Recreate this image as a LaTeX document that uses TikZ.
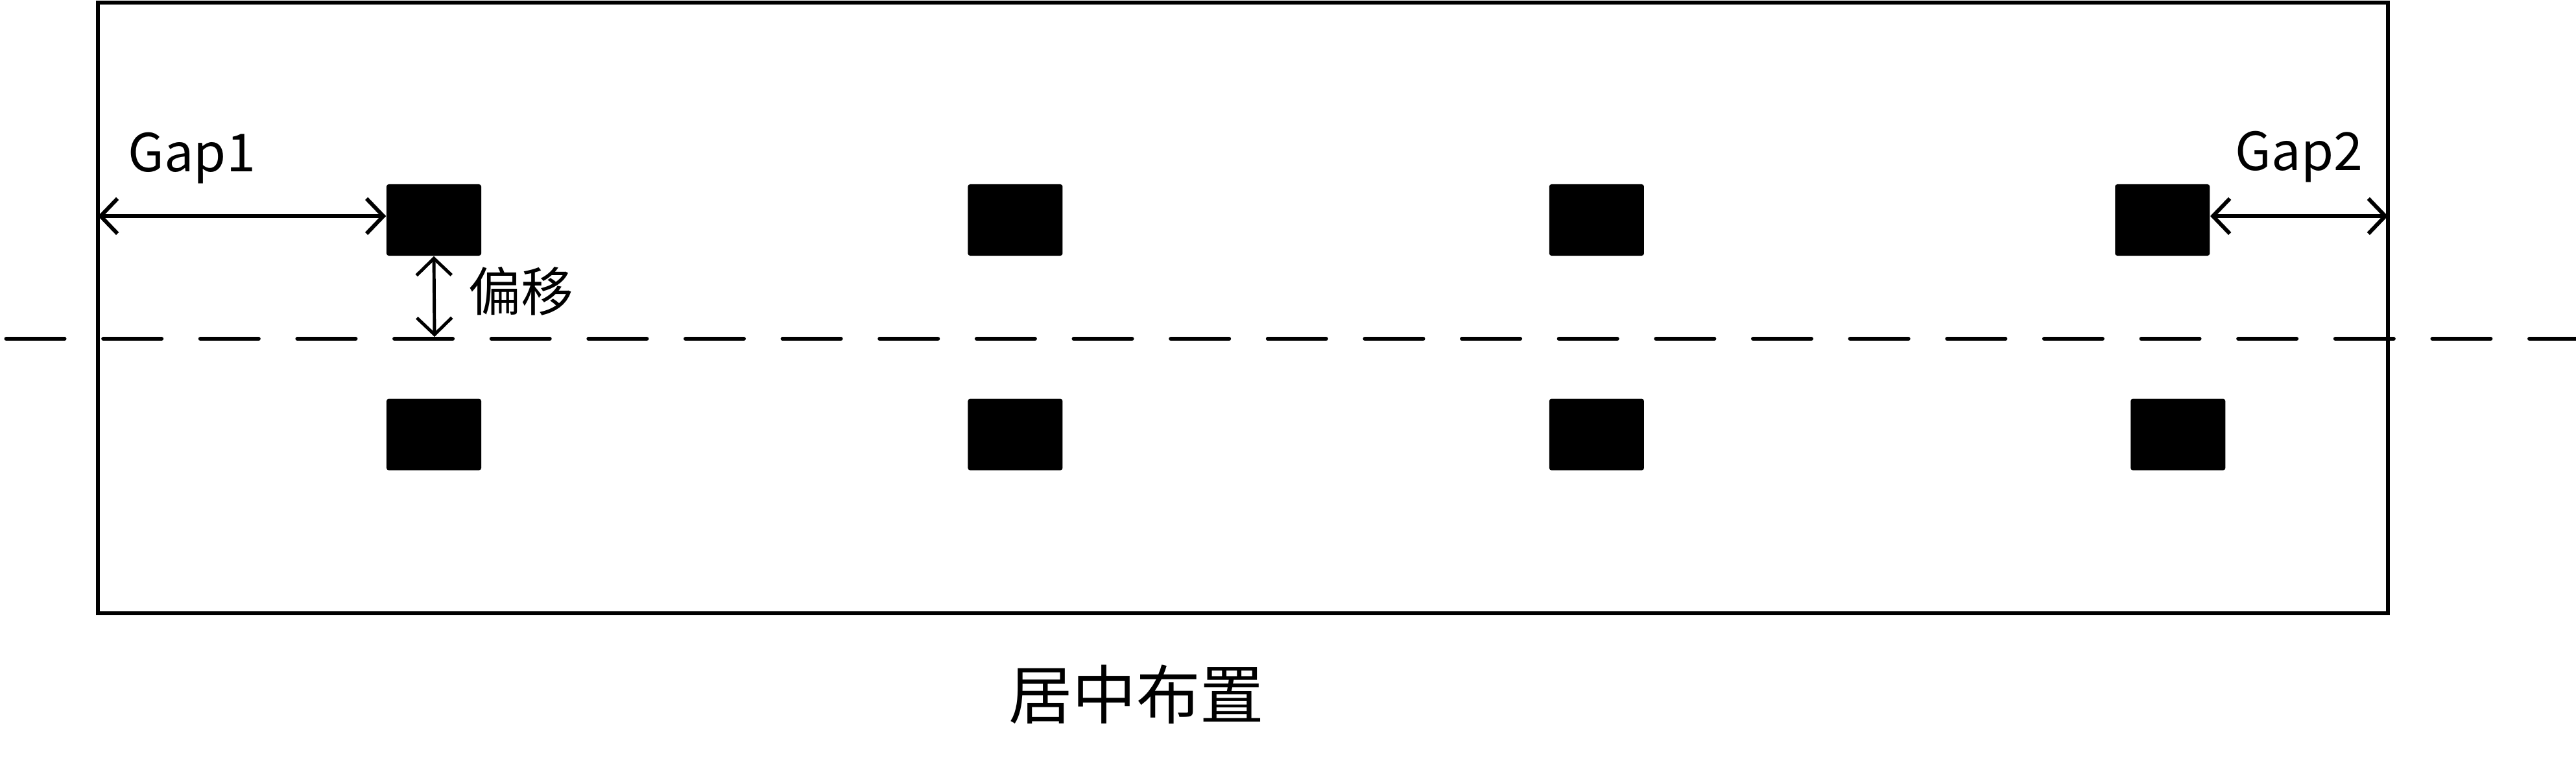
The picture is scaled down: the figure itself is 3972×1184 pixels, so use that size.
\documentclass[tikz,border=0pt]{standalone}
\usepackage{fontspec}
\setmainfont{Noto Sans CJK SC}
\usetikzlibrary{arrows.meta,positioning}

\begin{document}
\begin{tikzpicture}[x=0.01cm, y=-0.01cm, >={Straight Barb[length=2.6mm,width=5.4mm]},
	node distance=7.485cm,
	pad/.style={rectangle, fill=black, minimum width=1.46cm, minimum height=1.1cm, inner sep=0pt, rounded corners=1pt},
	gap/.style={<->, line width=1.7pt, line cap=round},
	lbl/.style={inner sep=0pt, font=\fontsize{23}{23}\selectfont}]
	\useasboundingbox (0,0) rectangle (3972,1184);
	% board outline and centre line
	\draw[line width=1.7pt] (151,4) rectangle (3682,945);
	\draw[line width=1.7pt, line cap=round, dash pattern=on 0.9cm off 0.5955cm] (9.5,522) -- (3980,522);
	
	\node[pad] (t1) at (669,339) {};
	\node[pad] (t2) [right=of t1] {};
	\node[pad] (t3) [right=of t2] {};
	\node[pad] (t4) [right=7.245cm of t3] {};
	\node[pad] (b1) [below=2.19cm of t1] {};
	\node[pad] (b2) [right=of b1] {};
	\node[pad] (b3) [right=of b2] {};
	\node[pad] (b4) [right=of b3] {};
	
	\coordinate (g1) at (151,333);
	\coordinate (g2) at (3682,333);
	\coordinate (m1) at (670,519);
	\draw[gap] (g1) -- (g1 -| t1.west);
	\draw[gap] (t4.east |- g2) -- (g2);
	\draw[<->, line width=1.4pt, line cap=round] (t1.south) -- (m1);
	
	\node[lbl, anchor=base west] (gap1) at (197,264) {Gap1};
	\node[lbl, anchor=base west] (gap2) at (3446,262) {Gap2};
	\node[lbl, anchor=west] (off) at (722,449) {偏移};
	\node[inner sep=0pt, font=\fontsize{28}{28}\selectfont] (cap) at (1752,1070) {居中布置};
\end{tikzpicture}
\end{document}
